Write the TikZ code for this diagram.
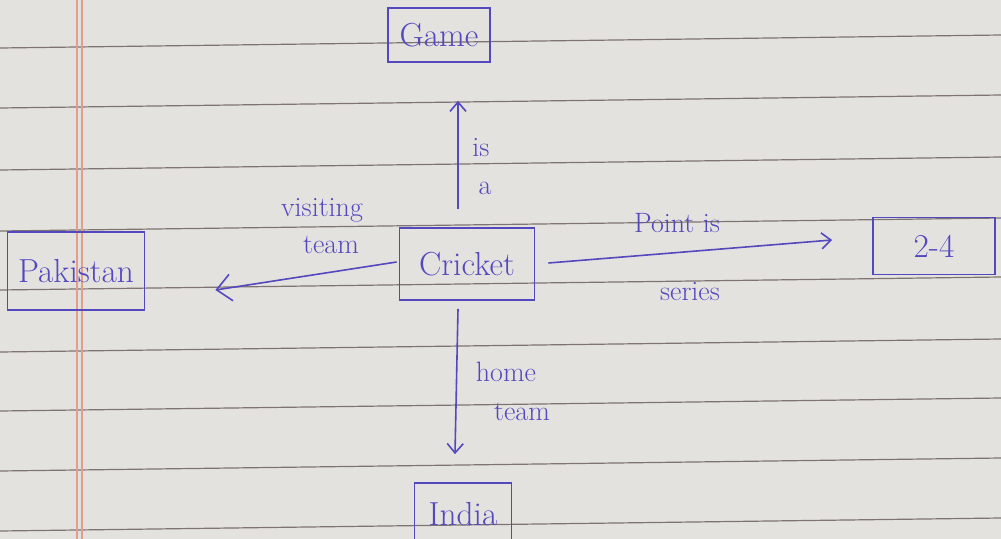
\documentclass[tikz,border=0pt]{standalone}
\usetikzlibrary{arrows.meta}
\definecolor{paper}{RGB}{228,226,223}
\definecolor{rule}{RGB}{125,115,112}
\definecolor{margin}{RGB}{226,158,138}
\definecolor{ink}{RGB}{84,72,190}
\tikzset{
  box/.style={draw=ink, line width=1.3pt, text=ink, inner sep=0pt, font=\fontsize{25}{27}\selectfont},
  lbl/.style={text=ink, inner sep=0pt, font=\fontsize{21}{23}\selectfont},
  arr/.style={draw=ink, line width=1.2pt, -{Straight Barb[length=7pt,width=12pt]}},
  ruled/.style={draw=rule, line width=0.9pt},
}
\begin{document}
\begin{tikzpicture}[x=0.75pt,y=-0.75pt]
% sheet of ruled paper
\fill[paper] (0,0) rectangle (1001,539);
\useasboundingbox (0,0) rectangle (1001,539);
\foreach \y in {45,105,167,228,287,349,408,468,528}
  \draw[ruled] (0,\y+3) -- (1001,\y-10);
\draw[margin, line width=0.8pt] (77,0) -- (77,539);
\draw[margin, line width=0.8pt] (82,0) -- (82,539);

% concept boxes
\node[box, minimum width=102*0.75pt, minimum height=54*0.75pt] (game) at (439,35) {Game};
\node[box, minimum width=137*0.75pt, minimum height=78*0.75pt] (pak) at (76,271) {Pakistan};
\node[box, minimum width=135*0.75pt, minimum height=72*0.75pt] (cricket) at (467,264) {Cricket};
\node[box, minimum width=122*0.75pt, minimum height=57*0.75pt] (score) at (934,246) {2-4};
\node[box, minimum width=97*0.75pt, minimum height=62*0.75pt] (india) at (463,514) {India};

% relations
\draw[arr] ([shift={(-9,-18)}]cricket.north) -- ([shift={(19,38)}]game.south);
\draw[arr, -{Straight Barb[length=11pt,width=20pt]}] ([shift={(-2,-2)}]cricket.west) -- ([shift={(70,19)}]pak.east);
\draw[arr] ([shift={(13,-1)}]cricket.east) -- ([shift={(-40,-6)}]score.west);
\draw[arr] ([shift={(-9,8)}]cricket.south) -- ([shift={(-8,-28)}]india.north);

% relation labels
\node[lbl] (is) at (481,148) {is};
\node[lbl] (a) at (485,188) {a};
\node[lbl] (visiting) at (322,210) {visiting};
\node[lbl] (vteam) at (331,245) {team};
\node[lbl] (point) at (677,223) {Point is};
\node[lbl] (series) at (690,292) {series};
\node[lbl] (home) at (506,372) {home};
\node[lbl] (hteam) at (522,412) {team};
\end{tikzpicture}
\end{document}
